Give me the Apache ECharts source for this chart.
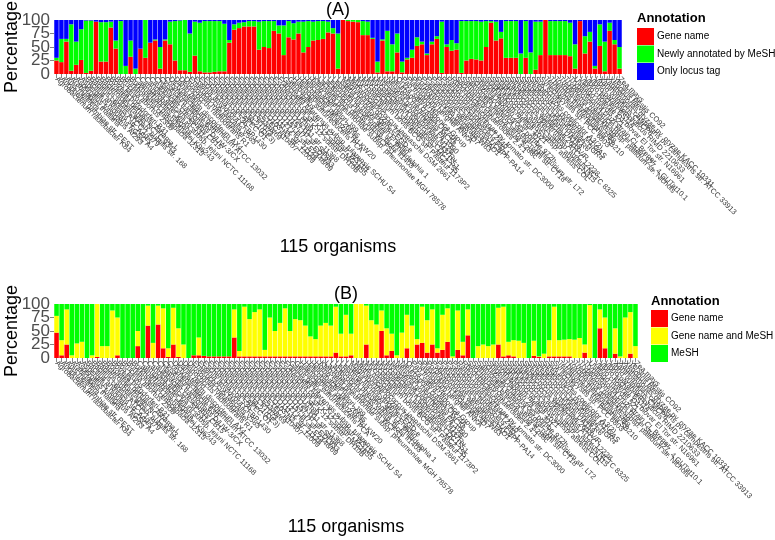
<!DOCTYPE html>
<html>
<head>
<meta charset="utf-8">
<script src="https://cdn.jsdelivr.net/npm/echarts@6/dist/echarts.min.js"></script>
<style>html,body{margin:0;padding:0;background:#fff}#c{width:775px;height:540px}</style>
</head>
<body>
<div id="c"></div>
<script>
const organisms = [
"Agrobacterium radiobacter K84","Anopheles gambiae str. PEST","Apis mellifera","Arabidopsis thaliana","Aspergillus fumigatus Af293",
"Aspergillus nidulans FGSC A4","Bacillus anthracis str. Ames","Bacillus cereus ATCC 14579","Bacillus subtilis subsp. subtilis str. 168","Bacteroides fragilis NCTC 9343",
"Bordetella pertussis Tohama I","Borrelia burgdorferi B31","Bos taurus","Brucella abortus 2308","Burkholderia cenocepacia J2315",
"Burkholderia pseudomallei K96243","Caenorhabditis elegans","Campylobacter jejuni subsp. jejuni NCTC 11168","Candida albicans SC5314","Caulobacter crescentus CB15",
"Chlamydia trachomatis D/UW-3/CX","Clostridium difficile 630","Corynebacterium glutamicum ATCC 13032","Dictyostelium discoideum AX4","Danio rerio",
"Deinococcus radiodurans R1","Drosophila melanogaster","Enterococcus faecalis V583","Erwinia amylovora CFBP1430","Escherichia coli 536",
"Escherichia coli APEC O1","Escherichia coli BL21(DE3)","Escherichia coli CFT073","Escherichia coli E2348/69","Escherichia coli ETEC H10407",
"Escherichia coli O103:H2 str. 12009","Escherichia coli O111:H- str. 11128","Escherichia coli O127:H6 str. E2348/69","Escherichia coli O157:H7 str. EDL933","Escherichia coli O157:H7 str. Sakai",
"Escherichia coli O26:H11 str. 11368","Escherichia coli UTI89","Escherichia coli str. K-12 substr. DH10B","Escherichia coli str. K-12 substr. MG1655","Escherichia coli str. K-12 substr. W3110",
"Francisella tularensis subsp. tularensis SCHU S4","Gallus gallus","Geobacter sulfurreducens PCA","Haemophilus influenzae Rd KW20","Helicobacter pylori 26695",
"Helicobacter pylori J99","Homo sapiens","Klebsiella pneumoniae subsp. pneumoniae MGH 78578","Lactobacillus plantarum WCFS1","Lactococcus lactis subsp. lactis Il1403",
"Legionella pneumophila str. Philadelphia 1","Leishmania major strain Friedlin","Listeria monocytogenes EGD-e","Magnaporthe oryzae 70-15","Methanocaldococcus jannaschii DSM 2661",
"Mus musculus","Mycobacterium bovis BCG str. Pasteur 1173P2","Mycobacterium smegmatis str. MC2 155","Mycobacterium tuberculosis CDC1551","Mycobacterium tuberculosis H37Rv",
"Mycoplasma pneumoniae M129","Neisseria gonorrhoeae FA 1090","Neisseria meningitidis MC58","Neurospora crassa OR74A","Oryza sativa Japonica Group",
"Pan troglodytes","Plasmodium berghei ANKA","Plasmodium falciparum 3D7","Porphyromonas gingivalis W83","Pseudomonas aeruginosa PAO1",
"Pseudomonas aeruginosa UCBPP-PA14","Pseudomonas fluorescens Pf0-1","Pseudomonas putida KT2440","Pseudomonas syringae pv. tomato str. DC3000","Rattus norvegicus",
"Rhodobacter sphaeroides 2.4.1","Saccharomyces cerevisiae S288c","Salmonella enterica serovar Typhi str. CT18","Salmonella enterica serovar Typhimurium str. LT2","Schizosaccharomyces pombe 972h-",
"Shigella flexneri 2a str. 301","Sinorhizobium meliloti 1021","Staphylococcus aureus subsp. aureus COL","Staphylococcus aureus subsp. aureus N315","Staphylococcus aureus subsp. aureus NCTC 8325",
"Staphylococcus epidermidis ATCC 12228","Streptococcus agalactiae 2603V/R","Streptococcus mutans UA159","Streptococcus pneumoniae R6","Streptococcus pneumoniae TIGR4",
"Streptococcus pyogenes M1 GAS","Streptomyces coelicolor A3(2)","Sus scrofa","Synechocystis sp. PCC 6803","Tetrahymena thermophila SB210",
"Thermus thermophilus HB8","Toxoplasma gondii ME49","Treponema pallidum subsp. pallidum str. Nichols","Trypanosoma brucei brucei strain 927_4 GUTat10.1","Trypanosoma cruzi strain CL Brener",
"Ustilago maydis 521","Vibrio cholerae O1 biovar El Tor str. N16961","Vibrio fischeri ES114","Vibrio parahaemolyticus RIMD 2210633","Vibrio vulnificus CMCP6",
"Xanthomonas campestris pv. campestris str. ATCC 33913","Xanthomonas oryzae pv. oryzae KACC 10331","Xenopus laevis","Yersinia pestis CO92","Zea mays"
];

const yTicks = [0, 25, 50, 75, 100];

// Panel (A)
const geneNameA = [25,22,60,6,17,26,2,6,97,23, 23,86,47,0,0,32,0,47,30,58, 62,10,62,55,25,7,7,4,34,5,
  3,3,4,5,5,58,82,85,88,88, 88,45,50,48,80,75,35,68,64,75, 40,50,62,63,65,77,75,10,100,98,
  97,96,72,72,65,3,62,5,5,40, 3,27,30,52,55,35,55,65,2,50, 43,45,2,25,28,27,25,50,95,62,
  66,30,30,30,0,30,0,8,35,100, 35,35,35,35,33,10,98,38,60,10, 52,5,80,55,10];
const newMeshA = [5,43,5,86,43,57,97,93,0,73, 73,11,15,98,15,30,10,0,70,0, 2,40,2,42,73,92,93,71,63,90,
  95,95,94,93,88,5,10,10,8,10, 10,52,48,50,18,15,55,30,30,22, 57,48,35,35,33,20,10,65,0,2,
  3,4,26,25,2,20,2,75,50,35, 20,3,15,16,5,3,5,5,95,5, 20,12,96,73,70,71,72,48,3,35,
  12,68,68,68,38,68,40,89,62,0, 63,63,63,63,62,45,0,32,18,5, 40,55,15,8,40];
const locusA = [70,35,35,8,40,17,1,1,3,4, 4,3,38,2,85,38,90,53,0,42, 36,50,36,3,2,1,0,25,3,5,
  2,2,2,2,7,37,8,5,4,2, 2,3,2,2,2,10,10,2,6,3, 3,2,3,2,2,3,15,25,0,0,
  0,0,2,3,33,77,36,20,45,25, 77,70,55,32,40,62,40,30,3,45, 37,43,2,2,2,2,3,2,2,3,
  22,2,2,2,62,2,60,3,3,0, 2,2,2,2,5,45,2,30,22,85, 8,40,5,37,50];

// Panel (B)
const geneNameB = [47,5,25,0,0,0,0,0,2,0, 0,0,5,0,0,0,22,0,60,0, 62,18,2,25,2,0,0,5,5,4,
  3,3,3,3,3,38,3,3,3,3, 3,3,3,3,3,3,3,3,3,3, 3,3,3,3,3,10,3,3,5,0,
  0,25,0,0,50,5,13,0,0,18, 0,25,28,10,25,10,15,30,0,15, 5,42,0,0,0,0,0,25,3,5,
  3,0,0,0,4,2,0,3,3,3, 3,3,0,0,10,0,0,55,18,0, 8,0,0,8,0];
const geneMeshB = [31,28,65,5,27,30,0,5,98,22, 22,88,70,0,0,0,28,0,37,28, 35,74,16,68,53,25,0,0,33,0,
  0,0,0,0,0,52,10,92,69,82, 87,12,72,47,62,89,47,69,67,57, 37,32,57,62,57,85,42,77,40,100,
  100,72,70,62,38,50,32,5,47,62, 60,10,67,60,65,8,65,62,3,73, 25,48,0,22,25,22,25,68,92,25,
  30,32,28,0,28,1,8,30,92,30, 31,32,34,37,15,98,0,35,57,0, 47,3,75,77,22];
const meshB = [22,67,10,95,73,70,100,95,0,78, 78,12,25,100,100,100,50,100,3,72, 3,8,82,7,45,75,100,95,62,96,
  97,97,97,97,97,10,87,5,28,15, 10,85,25,50,35,8,50,28,30,40, 60,65,40,35,40,5,55,20,55,0,
  0,3,30,38,12,45,55,95,53,20, 40,65,5,30,10,82,20,8,97,12, 70,10,100,78,75,78,75,7,5,70,
  67,68,72,100,68,97,92,67,5,67, 66,65,66,63,75,2,100,10,25,100, 45,97,25,15,78];

const FONT = 'Liberation Sans, Arial, Helvetica, sans-serif';
const chart = echarts.init(document.getElementById('c'), null, {renderer: 'canvas'});

function xAx(gi) {
  return {
    type: 'category', gridIndex: gi, data: organisms,
    axisLine: {show: false},
    axisTick: {show: true, length: 4, alignWithLabel: true, lineStyle: {color: '#333', width: 0.6}},
    axisLabel: {interval: 0, rotate: -45, fontSize: 7.5, color: '#3a3a3a', margin: 4, fontFamily: FONT, hideOverlap: false}
  };
}
// main axis: all ticks, inner labels (25, 50, 75)
function yAxMain(gi) {
  return {
    type: 'value', gridIndex: gi, min: yTicks[0], max: yTicks[yTicks.length - 1], interval: 25,
    axisLine: {show: false},
    axisTick: {show: true, length: 4, lineStyle: {color: '#333', width: 0.6}},
    splitLine: {show: false},
    axisLabel: {fontSize: 17, color: '#4d4d4d', margin: 4, fontFamily: FONT,
                showMinLabel: false, showMaxLabel: false,
                formatter: v => (v === 25 || v === 75 || v === 50) ? String(v) : ''}
  };
}
// overlay axis: end labels (0, 100)
function yAxEnds(gi) {
  return {
    type: 'value', gridIndex: gi, min: yTicks[0], max: yTicks[yTicks.length - 1], interval: 50,
    position: 'left', offset: 0,
    axisLine: {show: false}, axisTick: {show: false}, splitLine: {show: false},
    axisLabel: {fontSize: 17, color: '#4d4d4d', margin: 4, fontFamily: FONT,
                showMinLabel: true, showMaxLabel: true,
                formatter: v => (v === 0 || v === 100) ? String(v) : ''}
  };
}
function bar(name, data, color, gi, stack) {
  return {
    name: name, type: 'bar', stack: stack, data: data, xAxisIndex: gi, yAxisIndex: gi,
    barCategoryGap: '10%', itemStyle: {color: color}, animation: false
  };
}

const RED = '#FF0000', GREEN = '#00FF00', BLUE = '#0000FF', YELLOW = '#FFFF00';

chart.setOption({
  animation: false,
  textStyle: {fontFamily: FONT},
  grid: [
    {left: 54, top: 20, width: 568, height: 54},
    {left: 54, top: 304, width: 584, height: 54}
  ],
  xAxis: [xAx(0), xAx(1)],
  yAxis: [yAxMain(0), yAxMain(1), yAxEnds(0), yAxEnds(1)],
  legend: [
    {data: ['Gene name', 'Newly annotated by MeSH', 'Only locus tag'], orient: 'vertical', left: 637, top: 28,
     itemWidth: 17, itemHeight: 17, itemGap: 0.5, padding: 0, icon: 'rect', selectedMode: false,
     textStyle: {fontSize: 10, color: '#000', fontFamily: FONT, padding: [0, 0, 0, -2]}},
    {data: ['Gene name', 'Gene name and MeSH', 'MeSH'], orient: 'vertical', left: 651, top: 310,
     itemWidth: 17, itemHeight: 17, itemGap: 0.5, padding: 0, icon: 'rect', selectedMode: false,
     textStyle: {fontSize: 10, color: '#000', fontFamily: FONT, padding: [0, 0, 0, -2]}}
  ],
  series: [
    bar('Gene name', geneNameA, RED, 0, 'a'),
    bar('Newly annotated by MeSH', newMeshA, GREEN, 0, 'a'),
    bar('Only locus tag', locusA, BLUE, 0, 'a'),
    bar('Gene name', geneNameB, RED, 1, 'b'),
    bar('Gene name and MeSH', geneMeshB, YELLOW, 1, 'b'),
    bar('MeSH', meshB, GREEN, 1, 'b')
  ],
  graphic: [
    {type: 'text', x: 338, y: 10, style: {text: '(A)', font: '18px ' + FONT, fill: '#000', textAlign: 'center', textVerticalAlign: 'middle'}},
    {type: 'text', x: 346, y: 294, style: {text: '(B)', font: '18px ' + FONT, fill: '#000', textAlign: 'center', textVerticalAlign: 'middle'}},
    {type: 'text', x: 12, y: 47, rotation: Math.PI / 2, style: {text: 'Percentage', font: '18px ' + FONT, fill: '#000', textAlign: 'center', textVerticalAlign: 'middle'}},
    {type: 'text', x: 12, y: 331, rotation: Math.PI / 2, style: {text: 'Percentage', font: '18px ' + FONT, fill: '#000', textAlign: 'center', textVerticalAlign: 'middle'}},
    {type: 'text', x: 338, y: 247, style: {text: '115 organisms', font: '18px ' + FONT, fill: '#000', textAlign: 'center', textVerticalAlign: 'middle'}},
    {type: 'text', x: 346, y: 527, style: {text: '115 organisms', font: '18px ' + FONT, fill: '#000', textAlign: 'center', textVerticalAlign: 'middle'}},
    {type: 'text', x: 637, y: 18, style: {text: 'Annotation', font: 'bold 13px ' + FONT, fill: '#000', textAlign: 'left', textVerticalAlign: 'middle'}},
    {type: 'text', x: 651, y: 301, style: {text: 'Annotation', font: 'bold 13px ' + FONT, fill: '#000', textAlign: 'left', textVerticalAlign: 'middle'}}
  ]
});
</script>
</body>
</html>
